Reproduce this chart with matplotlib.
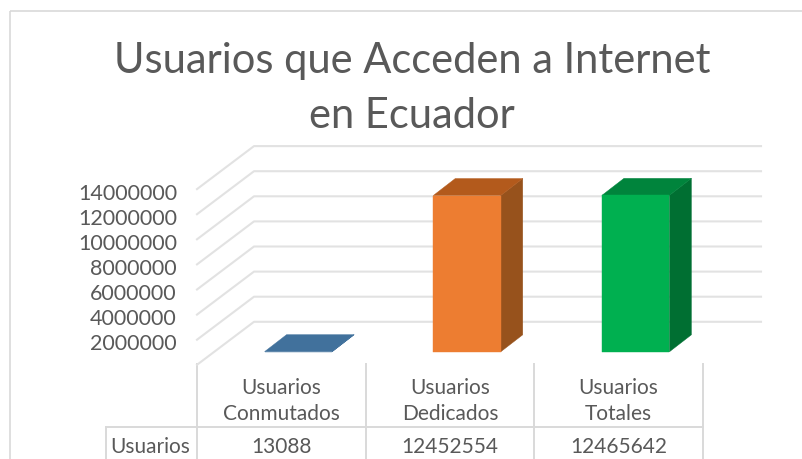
import matplotlib
matplotlib.use('Agg')
import matplotlib.pyplot as plt
from matplotlib.patches import Polygon, Rectangle
from matplotlib.transforms import ScaledTranslation

categories = ['Usuarios\nConmutados', 'Usuarios\nDedicados', 'Usuarios\nTotales']
values = [13088, 12452554, 12465642]
table_values = ['13088', '12452554', '12465642']
row_label = 'Usuarios'
y_ticks = [2000000, 4000000, 6000000, 8000000, 10000000, 12000000, 14000000]
title_lines = ['Usuarios que Acceden a Internet', 'en Ecuador']

front_colors = ['#41719c', '#ed7d31', '#00b050']
top_colors = ['#41719c', '#b35a1c', '#00843c']
side_colors = ['#41719c', '#97521c', '#006f32']
grid_color = '#e2e2e2'
text_color = '#595959'

W, H = 803, 460
plt.rcParams['font.family'] = ['Lato', 'DejaVu Sans']

fig = plt.figure(figsize=(W / 100, H / 100), dpi=100)

# background axes in pixels, for the chart frame, title and table
bg = fig.add_axes([0, 0, 1, 1])
bg.set_xlim(0, W)
bg.set_ylim(H, 0)
bg.axis('off')
bg.add_patch(Rectangle((10, 12), 810, 470, fill=False, ec='#d9d9d9', lw=1.2))
bg.text(412, 61, title_lines[0], ha='center', va='center', fontsize=30,
        color=text_color)
bg.text(412, 116, title_lines[1], ha='center', va='center', fontsize=30,
        color=text_color)

# axes on the front plane of the bars: x is category slot, y is the value
px_per_unit = 25.1 / 2000000
floor_y = 352.8
left, right = 214, 720
top_val = 14000000
ax = fig.add_axes([left / W, 1 - floor_y / H, (right - left) / W,
                   top_val * px_per_unit / H])
ax.set_xlim(-0.5, 2.5)
ax.set_ylim(0, top_val)
ax.axis('off')


def shift(dx, dy):
    return ax.transData + ScaledTranslation(dx / 100, dy / 100, fig.dpi_scale_trans)


# depth offsets in pixels from the bar front plane
bar_dx, bar_dy = 22, 17
wall_dx, wall_dy = 40, 30
front_dx, front_dy = -17, -13

# gridlines: floor edge up to back wall, then along the wall
for v in [0] + y_ticks:
    a = shift(front_dx, front_dy).transform((-0.5, v))
    b = shift(wall_dx, wall_dy).transform((-0.5, v))
    xs = [a[0], b[0], 761]
    ys = [a[1], b[1], b[1]]
    fig.add_artist(plt.Line2D(xs, ys, transform=None, color=grid_color, lw=1.5, zorder=1))

bar_w = 0.4
back = shift(bar_dx, bar_dy)
for i, v in enumerate(values):
    x0, x1 = i - bar_w / 2, i + bar_w / 2
    # points in display space so front and back planes can be combined
    f0b = ax.transData.transform((x0, 0))
    f1b = ax.transData.transform((x1, 0))
    f0t = ax.transData.transform((x0, v))
    f1t = ax.transData.transform((x1, v))
    b0t = back.transform((x0, v))
    b1t = back.transform((x1, v))
    b1b = back.transform((x1, 0))
    for pts, col in [([f1b, b1b, b1t, f1t], side_colors[i]),
                     ([f0t, f1t, b1t, b0t], top_colors[i]),
                     ([f0b, f1b, f1t, f0t], front_colors[i])]:
        fig.add_artist(Polygon(pts, closed=True, transform=None, fc=col, ec=col,
                               lw=0.3, zorder=3))

# value axis labels
for v in y_ticks:
    a = shift(-37, -16.5).transform((-0.5, v))
    fig.text(a[0] / W, a[1] / H, str(v), ha='right', va='center', fontsize=15.5,
             color=text_color, zorder=4)

# data table under the chart
col_x = [197 + 168.67 * k for k in range(4)]
table_line = '#d9d9d9'
for x in col_x:
    bg.plot([x, x], [365, 460], color=table_line, lw=1.4)
bg.plot([106, col_x[-1]], [428, 428], color=table_line, lw=1.4)
bg.plot([106, 106], [428, 460], color=table_line, lw=1.4)
for k, name in enumerate(categories):
    cx = (col_x[k] + col_x[k + 1]) / 2
    l1, l2 = name.split('\n')
    bg.text(cx, 388, l1, ha='center', va='center', fontsize=15, color=text_color)
    bg.text(cx, 414, l2, ha='center', va='center', fontsize=15, color=text_color)
    bg.text(cx, 447, table_values[k], ha='center', va='center', fontsize=15,
            color=text_color)
bg.text(150, 447, row_label, ha='center', va='center', fontsize=15, color=text_color)

fig.savefig('out.png', dpi=100)
